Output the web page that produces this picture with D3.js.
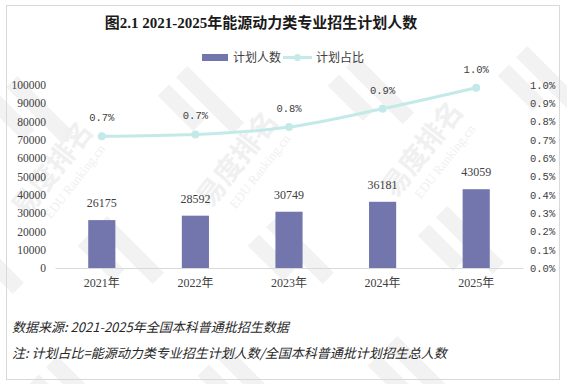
<!DOCTYPE html>
<html><head><meta charset="utf-8">
<script src="https://cdn.jsdelivr.net/npm/d3@7/dist/d3.min.js"></script>
<style>body{margin:0;background:#fff}svg{display:block}</style>
</head><body>
<svg id="c" width="567" height="384"></svg>
<script>
const years = ["2021年","2022年","2023年","2024年","2025年"];
const planCounts = [26175, 28592, 30749, 36181, 43059];
const planShare = [0.72, 0.73, 0.77, 0.87, 0.985];
const shareLabels = ["0.7%","0.7%","0.8%","0.9%","1.0%"];
const leftTicks = [0,10000,20000,30000,40000,50000,60000,70000,80000,90000,100000];
const rightTicks = [0,0.1,0.2,0.3,0.4,0.5,0.6,0.7,0.8,0.9,1.0];

const svg = d3.select("#c");
const serif = "'Liberation Serif','Noto Sans CJK SC',serif";
const cjk = "'Noto Sans CJK SC',sans-serif";
const mono = "'Liberation Mono','DejaVu Sans Mono',monospace";
const barColor = "#7276ad", lineColor = "#c3eae8";

// watermark (faint)
const wm = svg.append("g").attr("pointer-events","none");
const stripePos = [[40,110],[210,100],[380,90],[550,80],[-10,260],[130,250],[300,250],[470,240],[80,390],[250,380],[420,370],[100,-40],[270,-50],[440,-60]];
stripePos.forEach(([x,y]) => {
  wm.append("path").attr("transform",`translate(${x},${y}) rotate(45)`)
    .attr("d","M-40,-8 L40,-8 L40,8 L-40,8 Z M-40,18 L10,18 L10,34 L-40,34 Z").attr("fill","#f2f2f2");
});
const textPos = [[60,175],[245,165],[430,155]];
textPos.forEach(([x,y]) => {
  const g = wm.append("g").attr("transform",`translate(${x},${y}) rotate(-52)`);
  g.append("text").text("易度排名").attr("x",0).attr("y",0).attr("text-anchor","middle").attr("font-family",cjk).attr("font-weight","bold")
    .attr("font-size",28).attr("fill","#f0f0f0");
  g.append("text").text("EDU Ranking.cn").attr("x",4).attr("y",20).attr("text-anchor","middle").attr("font-family",serif)
    .attr("font-size",13).attr("fill","#f0f0f0");
});

// frame
svg.append("rect").attr("x",6.5).attr("y",5.5).attr("width",553).attr("height",374)
  .attr("fill","none").attr("stroke","#d9d9d9").attr("stroke-width",1);

const m = {l:55, r:523, t:85, b:268};
const x = d3.scaleBand().domain(years).range([m.l, m.r]).paddingInner(0.71).paddingOuter(0.355);
const y = d3.scaleLinear().domain([0,100000]).range([m.b, m.t]);
const y2 = d3.scaleLinear().domain([0,1.0]).range([m.b, m.t]);

// title
svg.append("text").attr("x",261).attr("y",28).attr("text-anchor","middle")
  .attr("font-family",serif).attr("font-weight","bold").attr("font-size",15).attr("fill","#1a1a1a")
  .text("图2.1  2021-2025年能源动力类专业招生计划人数");

// legend
const lg = svg.append("g");
lg.append("rect").attr("x",202).attr("y",54).attr("width",26).attr("height",7).attr("fill",barColor);
lg.append("text").attr("x",233).attr("y",62).attr("font-family",cjk).attr("font-size",12).attr("fill","#404040").text("计划人数");
lg.append("line").attr("x1",283).attr("x2",312).attr("y1",57.5).attr("y2",57.5).attr("stroke",lineColor).attr("stroke-width",3);
lg.append("circle").attr("cx",297.5).attr("cy",57.5).attr("r",3.5).attr("fill",lineColor);
lg.append("text").attr("x",316).attr("y",62).attr("font-family",cjk).attr("font-size",12).attr("fill","#404040").text("计划占比");

// left axis
const la = svg.append("g").attr("transform",`translate(${m.l},0)`)
  .call(d3.axisLeft(y).tickValues(leftTicks).tickSize(0).tickPadding(9).tickFormat(d3.format("d")));
la.select(".domain").remove();
la.selectAll("text").attr("font-family",serif).attr("font-size",11.5).attr("fill","#404040");

// right axis
const ra = svg.append("g").attr("transform",`translate(${m.r},0)`)
  .call(d3.axisRight(y2).tickValues(rightTicks).tickSize(0).tickPadding(7).tickFormat(d => d.toFixed(1) + "%"));
ra.select(".domain").remove();
ra.selectAll("text").attr("font-family",mono).attr("font-size",10.5).attr("fill","#404040");

// bars
svg.append("g").selectAll("rect").data(planCounts).join("rect")
  .attr("x",(d,i)=>x(years[i])).attr("width",x.bandwidth())
  .attr("y",d=>y(d)).attr("height",d=>y(0)-y(d)).attr("fill",barColor);
svg.append("g").selectAll("text").data(planCounts).join("text")
  .attr("x",(d,i)=>x(years[i])+x.bandwidth()/2).attr("y",d=>y(d)-13)
  .attr("text-anchor","middle").attr("font-family",serif).attr("font-size",12).attr("fill","#404040")
  .text(d=>d);

// x axis
const xa = svg.append("g").attr("transform",`translate(0,${m.b})`)
  .call(d3.axisBottom(x).tickSize(0).tickPadding(10));
xa.select(".domain").attr("stroke","#d9d9d9").attr("stroke-width",1);
xa.selectAll("text").attr("font-family",serif).attr("font-size",12).attr("fill","#404040");

// line
const cx = i => x(years[i]) + x.bandwidth()/2;
svg.append("path").datum(planShare)
  .attr("d", d3.line().x((d,i)=>cx(i)).y(d=>y2(d)).curve(d3.curveMonotoneX))
  .attr("fill","none").attr("stroke",lineColor).attr("stroke-width",3);
svg.append("g").selectAll("circle").data(planShare).join("circle")
  .attr("cx",(d,i)=>cx(i)).attr("cy",d=>y2(d)).attr("r",4).attr("fill",lineColor);
svg.append("g").selectAll("text").data(planShare).join("text")
  .attr("x",(d,i)=>cx(i)).attr("y",d=>y2(d)-15)
  .attr("text-anchor","middle").attr("font-family",mono).attr("font-size",10.5).attr("fill","#404040")
  .text((d,i)=>shareLabels[i]);

// footnotes
svg.append("text").attr("x",12).attr("y",332).attr("font-family",cjk).attr("font-style","italic")
  .attr("font-size",13).attr("fill","#262626").text("数据来源:  2021-2025年全国本科普通批招生数据");
svg.append("text").attr("x",12).attr("y",358).attr("font-family",cjk).attr("font-style","italic")
  .attr("font-size",13).attr("fill","#262626").text("注:  计划占比=能源动力类专业招生计划人数/全国本科普通批计划招生总人数");
</script>
</body></html>
